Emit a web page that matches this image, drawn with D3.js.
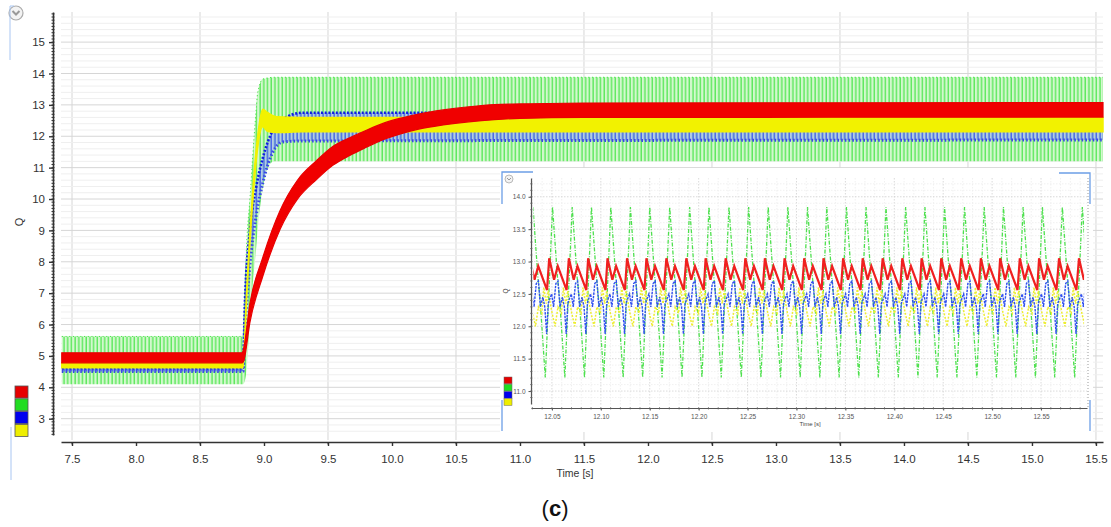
<!DOCTYPE html>
<html><head><meta charset="utf-8">
<script src="https://cdn.jsdelivr.net/npm/d3@7"></script>
<style>
body{margin:0;background:#fff}
svg{display:block}
text{font-family:"Liberation Sans",Arial,sans-serif}
</style>
</head><body>
<svg id="c" width="1111" height="527"></svg>
<script>
// ================= DATA =================
// main chart ticks
const mainXTicks = [7.5,8.0,8.5,9.0,9.5,10.0,10.5,11.0,11.5,12.0,12.5,13.0,13.5,14.0,14.5,15.0,15.5];
const mainYTicks = [3,4,5,6,7,8,9,10,11,12,13,14,15];
const legendColors = ["#e60000","#22dd22","#0000ee","#eeee00"];

// envelopes of the fast oscillating signals (time [s], lower / upper Q)
const greenT  = [7.42, 8.836, 8.85, 8.865, 8.89, 8.91, 8.94, 8.95, 8.99, 9.03, 9.08, 15.555];
const greenLo = [4.1,  4.1,   4.2,  4.6,   6.2,  7.2,  8.5,  9.0,  10.3, 11.0, 11.2, 11.2];
const greenHi = [5.62, 5.62,  7.0,  8.6,   10.0, 11.24,12.9, 13.37,13.82,13.86,13.88,13.88];

const blueT  = [7.42, 8.836, 8.85, 8.89, 8.94, 8.99, 9.07, 9.15, 9.3,  15.555];
const blueLo = [4.5,  4.5,   5.7,  7.9,  9.5,  10.5, 11.5, 11.82,11.85,11.88];
const blueHi = [4.6,  4.6,   6.6,  9.0,  10.4, 11.3, 12.2, 12.55,12.75,12.72];

const yellowT  = [7.42, 8.836, 8.865, 8.91, 8.95, 8.99, 9.03, 9.1,  9.3,  15.555];
const yellowLo = [4.62, 4.62,  6.85,  9.8,  11.6, 12.3, 12.15,12.12,12.14,12.14];
const yellowHi = [4.78, 4.78,  7.15,  10.15,12.0, 12.86,12.75,12.62,12.6, 12.6];

const redT  = [7.42, 8.83, 8.84, 8.89, 8.99, 9.125, 9.26, 9.41, 9.54, 9.67, 9.8,  9.93, 10.06, 10.2, 10.4, 10.6, 10.8, 11.0, 11.5, 15.555];
const redLo = [4.78, 4.78, 4.82, 6.07, 7.53, 9.03,  9.99, 10.62,11.08,11.39,11.65,11.89,12.07, 12.22,12.36,12.46,12.53,12.57,12.6, 12.61];
const redHi = [5.1,  5.1,  5.22, 6.67, 8.13, 9.63,  10.59,11.22,11.68,11.95,12.19,12.41,12.57, 12.7, 12.84,12.94,13.01,13.03,13.06,13.07];

// inset (zoom 12.03 .. 12.59 s)
const insetXTicks = [12.05,12.10,12.15,12.20,12.25,12.30,12.35,12.40,12.45,12.50,12.55];
const insetYTicks = [11.0,11.5,12.0,12.5,13.0,13.5,14.0];
// times of the large red peaks
const redPeaks = [12.0272,12.0472,12.0673,12.0870,12.1068,12.1268,12.1466,12.1670,12.1874,12.2071,12.2276,
                  12.2477,12.2677,12.2878,12.3079,12.3276,12.3477,12.3677,12.3881,12.4082,12.4279,12.4480,
                  12.4684,12.4885,12.5082,12.5283,12.5480,12.5684,12.5888];
// one measured cycle of every signal: [offset after the red peak (s), Q]
const redCycle    = [[0,13.05],[0.005,12.72],[0.0088,12.93],[0.0178,12.56]];
const greenCycle  = [[0.0034,13.84],[0.0085,12.75],[0.0105,12.45],[0.016,11.21]];
const blueCycle   = [[0,12.4],[0.0025,12.5],[0.0045,12.3],[0.0068,12.66],[0.009,12.7],[0.011,12.3],
                     [0.0135,12.45],[0.0155,12.3],[0.0174,11.88],[0.019,12.35]];
const yellowCycle = [[0,12.45],[0.003,12.2],[0.006,12.0],[0.009,12.3],[0.0125,12.2],[0.0145,12.6],
                     [0.017,12.35],[0.019,12.55]];
const insetStart = 12.031, insetEnd = 12.594;

// ================= DRAWING =================
const svg = d3.select("#c");
const defs = svg.append("defs");

function stripes(id, w, bg, line, lw, op){
  const p = defs.append("pattern").attr("id",id).attr("patternUnits","userSpaceOnUse")
    .attr("width",w).attr("height",10);
  if(bg) p.append("rect").attr("width",w).attr("height",10).attr("fill",bg);
  p.append("rect").attr("x",0.5).attr("width",lw).attr("height",10).attr("fill",line).attr("opacity",op);
}
stripes("gpat",3.7,"#d3f8ce","#48e548",1.2,1);
stripes("bpat",3.7,"rgba(140,150,255,0.45)","#4a5cf5",1.3,0.95);

const x = d3.scaleLinear().domain([7.414, 15.555]).range([61, 1103]);
const y = d3.scaleLinear().domain([2.48, 15.96]).range([435, 12]);

// grid
const g = svg.append("g");
const vMinor = d3.range(75,1556,10).map(v=>v/10);
g.selectAll(".vm").data(vMinor).join("line")
  .attr("x1",d=>x(d)).attr("x2",d=>x(d)).attr("y1",12).attr("y2",440)
  .attr("stroke",d=>Math.abs(d*2-Math.round(d*2))<1e-6?"#d6d6d6":"#ededed").attr("stroke-width",1);
const hMinor = d3.range(13,80,1).map(v=>v/5);
g.selectAll(".hm").data(hMinor).join("line")
  .attr("x1",61).attr("x2",1103).attr("y1",d=>y(d)).attr("y2",d=>y(d))
  .attr("stroke",d=>Math.abs(d-Math.round(d))<1e-6?"#d6d6d6":"#efefef").attr("stroke-width",1);

// bands
const cv = d3.curveMonotoneX;
function band(T,lo,hi){
  return d3.area().curve(cv).x((d,i)=>x(T[i])).y0((d,i)=>y(lo[i])).y1((d,i)=>y(hi[i]))(T);
}
function edge(T,v){ return d3.line().curve(cv).x((d,i)=>x(T[i])).y((d,i)=>y(v[i]))(T); }

svg.append("path").attr("d",band(greenT,greenLo,greenHi)).attr("fill","url(#gpat)");
svg.append("path").attr("d",edge(greenT,greenHi)).attr("fill","none").attr("stroke","#48e548").attr("stroke-width",1).attr("stroke-dasharray","1.2,2.5");
svg.append("path").attr("d",band(blueT,blueLo,blueHi)).attr("fill","url(#bpat)");
svg.append("path").attr("d",edge(blueT,blueHi)).attr("fill","none").attr("stroke","#1020e0").attr("stroke-width",2.6).attr("stroke-dasharray","2,1.7");
svg.append("path").attr("d",edge(blueT,blueLo)).attr("fill","none").attr("stroke","#3a48e6").attr("stroke-width",3).attr("stroke-dasharray","1.6,2.1");
svg.append("path").attr("d",band(yellowT,yellowLo,yellowHi)).attr("fill","#f2f200").attr("stroke","#f2f200").attr("stroke-width",1.5);
svg.append("path").attr("d",band(redT,redLo,redHi)).attr("fill","#f00000").attr("stroke","#e80000").attr("stroke-width",1.2);

// y axis
const yAx = svg.append("g").attr("transform","translate(53,0)")
  .call(d3.axisLeft(y).tickValues(mainYTicks).tickSize(4).tickSizeOuter(0).tickPadding(4).tickFormat(d3.format("d")));
yAx.select(".domain").attr("stroke","#333").attr("stroke-width",1.6);
yAx.selectAll(".tick line").attr("stroke","#333").attr("stroke-width",1.4);
yAx.selectAll("text").attr("font-size",11.5).attr("fill","#333");
const yMinor = d3.range(25,160,1).map(v=>v/10);
svg.append("g").selectAll("line").data(yMinor).join("line")
  .attr("x1",51.5).attr("x2",54.5).attr("y1",d=>y(d)).attr("y2",d=>y(d)).attr("stroke","#333").attr("stroke-width",1);
svg.append("text").attr("transform","translate(23,222) rotate(-90)").attr("text-anchor","middle")
  .attr("font-size",11).attr("fill","#333").text("Q");

// x axis
const xAx = svg.append("g").attr("transform","translate(0,442)")
  .call(d3.axisBottom(x).tickValues(mainXTicks).tickSize(4).tickSizeOuter(0).tickPadding(9).tickFormat(d3.format(".1f")));
xAx.select(".domain").attr("stroke","#333").attr("stroke-width",1.6);
xAx.selectAll(".tick line").attr("stroke","#333").attr("stroke-width",1.4);
xAx.selectAll("text").attr("font-size",11.5).attr("fill","#333");
svg.append("g").selectAll("line").data(vMinor).join("line")
  .attr("x1",d=>x(d)).attr("x2",d=>x(d)).attr("y1",442).attr("y2",444.5).attr("stroke","#333").attr("stroke-width",1);
svg.append("text").attr("x",575).attr("y",477).attr("text-anchor","middle")
  .attr("font-size",10.5).attr("fill","#333").text("Time [s]");

// legend swatches (main)
svg.append("g").selectAll("rect").data(legendColors).join("rect")
  .attr("x",15).attr("y",(d,i)=>386+i*12.8).attr("width",13).attr("height",12)
  .attr("fill",d=>d).attr("stroke","#555").attr("stroke-width",0.8);

// decorations main
svg.append("circle").attr("cx",16).attr("cy",13).attr("r",7).attr("fill","#f3f3f3").attr("stroke","#aaa").attr("stroke-width",1.2);
svg.append("path").attr("d","M12.5,11 L16,14.5 L19.5,11").attr("fill","none").attr("stroke","#999").attr("stroke-width",2);
svg.append("path").attr("d","M14,6 H10 V60").attr("fill","none").attr("stroke","#a9c6f2").attr("stroke-width",1);
svg.append("path").attr("d","M11,427 V480").attr("fill","none").attr("stroke","#a9c6f2").attr("stroke-width",1);

// ================= INSET =================
const ins = svg.append("g");
ins.append("rect").attr("x",500).attr("y",168).attr("width",593).attr("height",264).attr("fill","#fff");
const ix = d3.scaleLinear().domain([12.0286, 12.597]).range([531, 1087]);
const iy = d3.scaleLinear().domain([10.8, 14.29]).range([404, 178]);

// inset grid
const ixMinor = d3.range(1203,1260,1).map(v=>v/100);
ins.selectAll(".ivg").data(ixMinor).join("line")
  .attr("x1",d=>ix(d)).attr("x2",d=>ix(d)).attr("y1",178).attr("y2",406)
  .attr("stroke",d=>Math.abs(d*20-Math.round(d*20))<1e-6?"#d0d0d0":"#ececec")
  .attr("stroke-dasharray","1.5,1.5").attr("stroke-width",0.8);
const iyMinor = d3.range(109,143,1).map(v=>v/10);
ins.selectAll(".ihg").data(iyMinor).join("line")
  .attr("x1",531).attr("x2",1087).attr("y1",d=>iy(d)).attr("y2",d=>iy(d))
  .attr("stroke",d=>Math.abs(d*2-Math.round(d*2))<1e-6?"#d0d0d0":"#eeeeee")
  .attr("stroke-dasharray","1.5,1.5").attr("stroke-width",0.8);
ins.append("line").attr("x1",1088).attr("x2",1088).attr("y1",178).attr("y2",408)
  .attr("stroke","#999").attr("stroke-dasharray","1,2");

// inset signals
defs.append("clipPath").attr("id","iclip").append("rect")
  .attr("x",ix(insetStart)).attr("y",172).attr("width",ix(insetEnd)-ix(insetStart)).attr("height",236);
function cyclePts(cycle){
  const pts=[];
  redPeaks.forEach(p=>cycle.forEach(([o,v])=>pts.push([p+o,v])));
  return pts;
}
const iline = d3.line().x(d=>ix(d[0])).y(d=>iy(d[1]));
const sig = ins.append("g").attr("clip-path","url(#iclip)");
sig.append("path").attr("d",iline(cyclePts(greenCycle))).attr("fill","none")
  .attr("stroke","#4ee04e").attr("stroke-width",1.3).attr("stroke-dasharray","4,1.5,1,1.5");
sig.append("path").attr("d",iline(cyclePts(yellowCycle))).attr("fill","none")
  .attr("stroke","#eded30").attr("stroke-width",1.5).attr("stroke-dasharray","2,1.5");
sig.append("path").attr("d",iline(cyclePts(blueCycle))).attr("fill","none")
  .attr("stroke","#3050f0").attr("stroke-width",1.4).attr("stroke-dasharray","2.5,1");
sig.append("path").attr("d",iline(cyclePts(redCycle))).attr("fill","none")
  .attr("stroke","#f02020").attr("stroke-width",2.2);

// inset axes
const iyAx = ins.append("g").attr("transform","translate(531,0)")
  .call(d3.axisLeft(iy).tickValues(insetYTicks).tickSize(2.5).tickSizeOuter(0).tickPadding(3).tickFormat(d3.format(".1f")));
iyAx.select(".domain").attr("stroke","#555").attr("stroke-width",1.2);
iyAx.selectAll(".tick line").attr("stroke","#555");
iyAx.selectAll("text").attr("font-size",6.5).attr("fill","#555");
ins.append("g").selectAll("line").data(iyMinor).join("line")
  .attr("x1",530).attr("x2",532.5).attr("y1",d=>iy(d)).attr("y2",d=>iy(d)).attr("stroke","#666").attr("stroke-width",0.7);
const ixAx = ins.append("g").attr("transform","translate(0,408)")
  .call(d3.axisBottom(ix).tickValues(insetXTicks).tickSize(2.5).tickSizeOuter(0).tickPadding(4).tickFormat(d3.format(".2f")));
ixAx.select(".domain").attr("stroke","#555").attr("stroke-width",1.2);
ixAx.selectAll(".tick line").attr("stroke","#555");
ixAx.selectAll("text").attr("font-size",6.5).attr("fill","#555");
ins.append("g").selectAll("line").data(ixMinor).join("line")
  .attr("x1",d=>ix(d)).attr("x2",d=>ix(d)).attr("y1",407).attr("y2",409.5).attr("stroke","#666").attr("stroke-width",0.7);
ins.append("text").attr("x",810).attr("y",426).attr("text-anchor","middle").attr("font-size",6).attr("fill","#444").text("Time [s]");
ins.append("text").attr("transform","translate(508,291) rotate(-90)").attr("text-anchor","middle")
  .attr("font-size",6.5).attr("fill","#444").text("Q");

// inset legend
ins.append("g").selectAll("rect").data(legendColors).join("rect")
  .attr("x",504).attr("y",(d,i)=>377+i*7.2).attr("width",8).attr("height",6.8)
  .attr("fill",d=>d).attr("stroke","#666").attr("stroke-width",0.5);

// inset decorations
ins.append("circle").attr("cx",509).attr("cy",179).attr("r",4).attr("fill","#f3f3f3").attr("stroke","#aaa").attr("stroke-width",0.8);
ins.append("path").attr("d","M507,178 L509,180 L511,178").attr("fill","none").attr("stroke","#999").attr("stroke-width",1);
const br = "#6c9ee6";
ins.append("path").attr("d","M533,172 H502 V204").attr("fill","none").attr("stroke",br).attr("stroke-width",1.3);
ins.append("path").attr("d","M1059,173 H1090 V204").attr("fill","none").attr("stroke",br).attr("stroke-width",1.3);
ins.append("path").attr("d","M502,400 V431").attr("fill","none").attr("stroke",br).attr("stroke-width",1.3);
ins.append("path").attr("d","M1090,400 V431").attr("fill","none").attr("stroke",br).attr("stroke-width",1.3);

// caption
const cap = svg.append("text").attr("x",555).attr("y",516).attr("text-anchor","middle")
  .attr("font-family","'Liberation Serif','Times New Roman',serif").attr("font-size",22).attr("fill","#111");
cap.append("tspan").text("(");
cap.append("tspan").attr("font-weight","bold").text("c");
cap.append("tspan").text(")");
</script>
</body></html>
